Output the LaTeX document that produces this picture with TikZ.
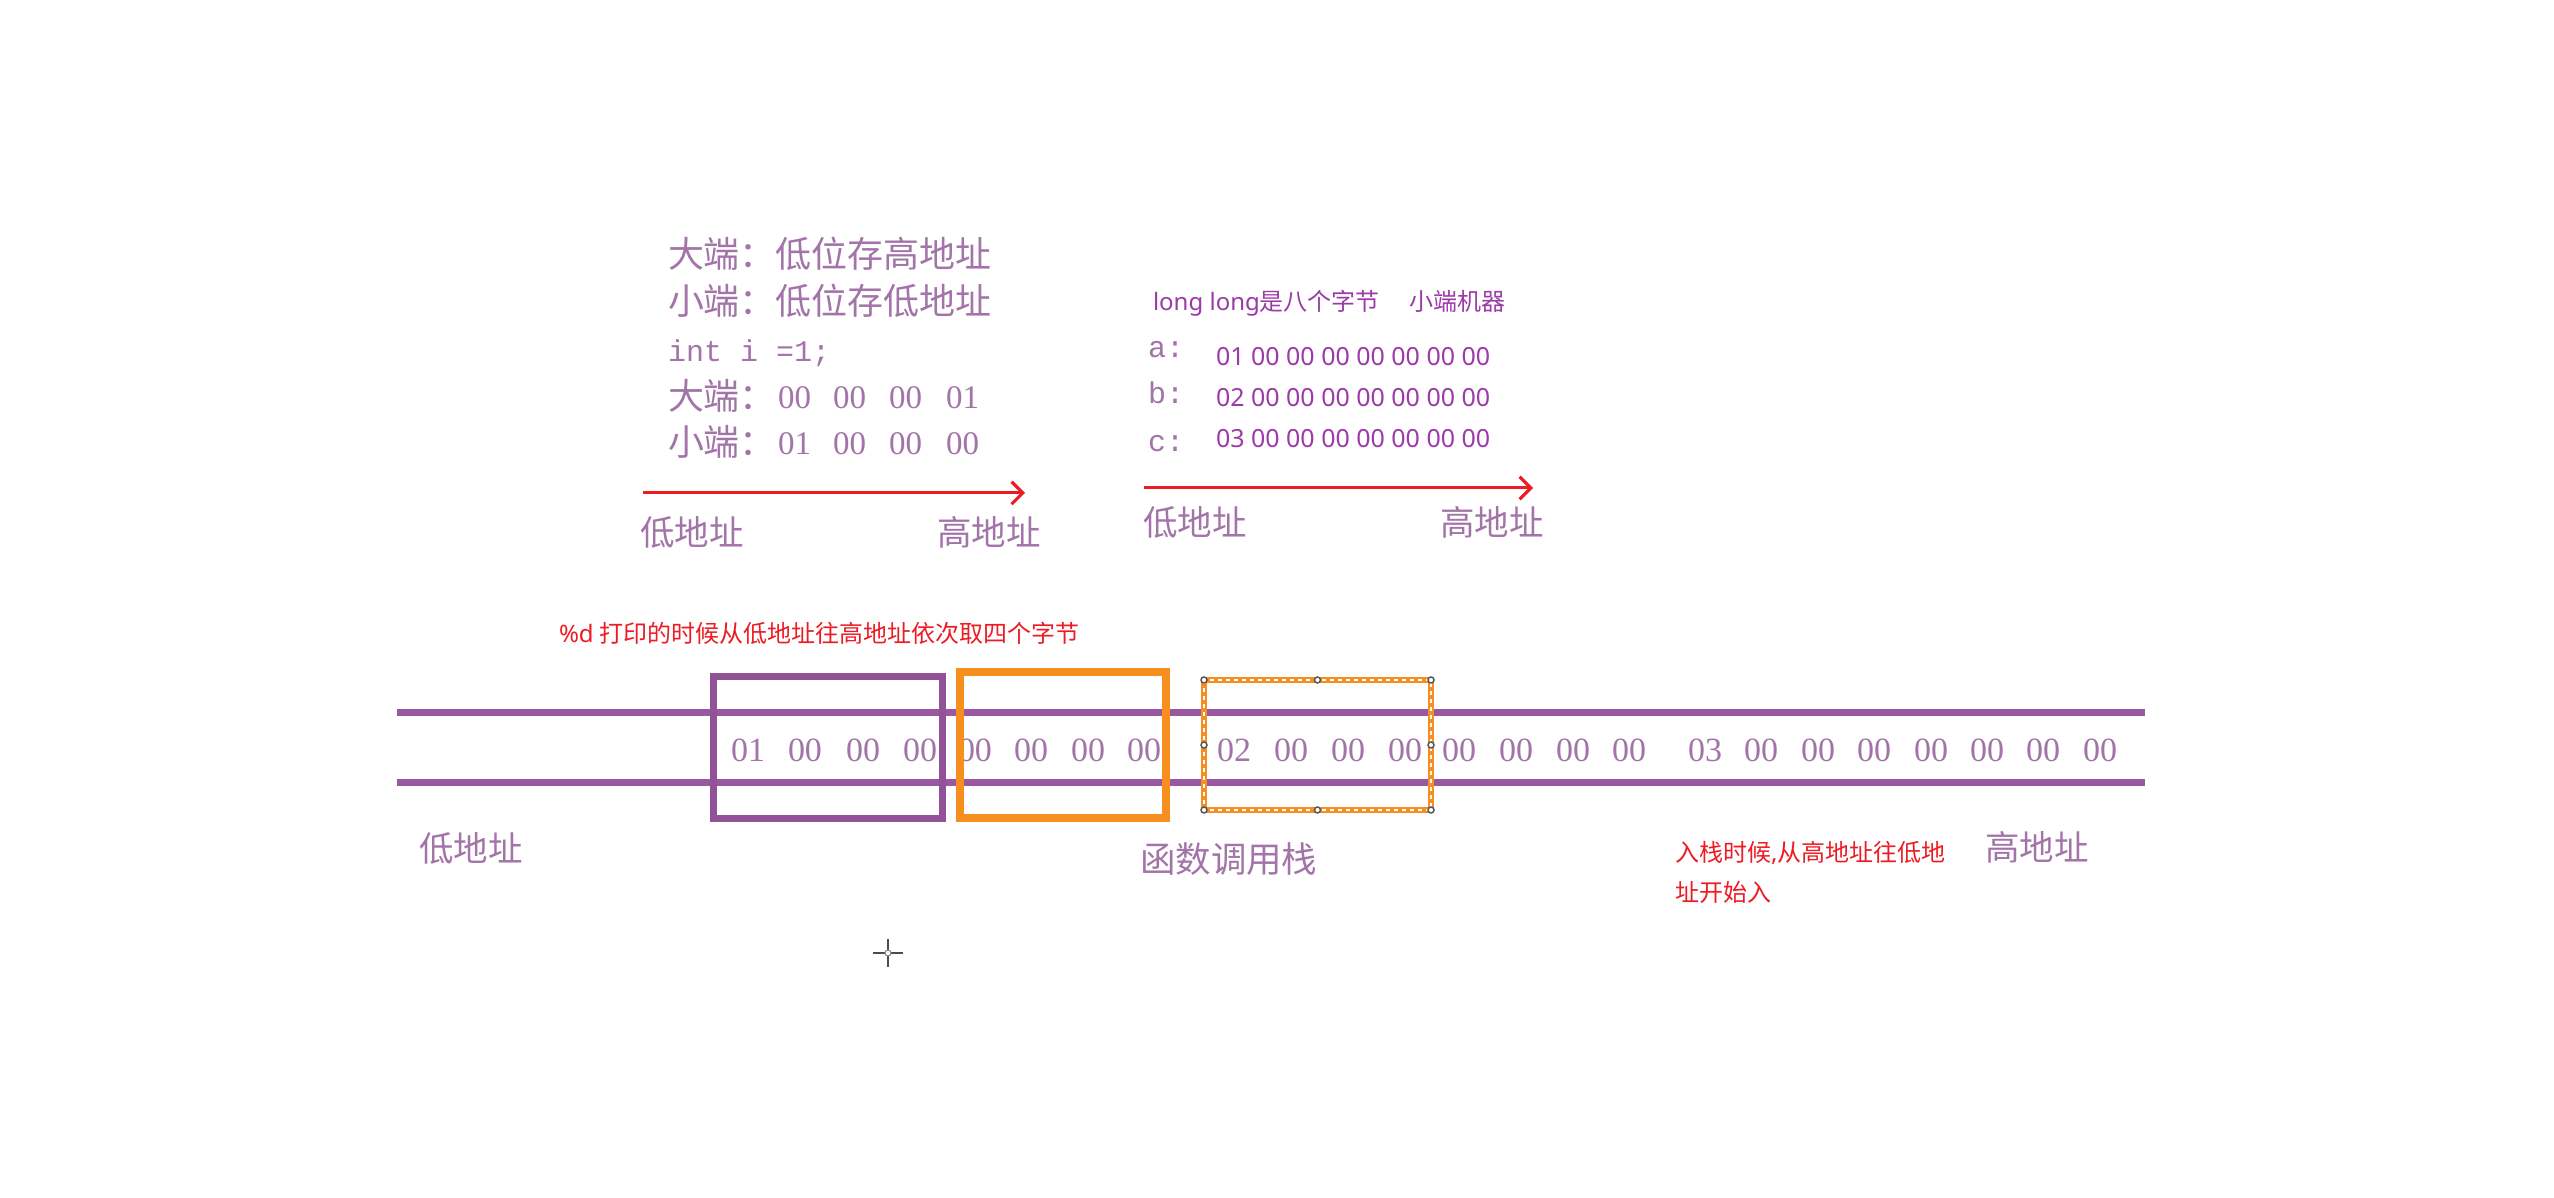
\documentclass[tikz,border=0pt]{standalone}
\usepackage{fontspec}
\setmainfont{Liberation Serif}
\newfontfamily\cjk{Noto Sans CJK SC}
\newfontfamily\lat{Noto Sans}
\newfontfamily\mono{Liberation Mono}
\usetikzlibrary{arrows.meta}
\definecolor{lightp}{RGB}{162,116,168}
\definecolor{hexp}{RGB}{155,58,168}
\definecolor{linep}{RGB}{154,88,160}
\definecolor{boxp}{RGB}{146,82,152}
\definecolor{orng}{RGB}{247,142,32}
\definecolor{redt}{RGB}{237,28,36}
\tikzset{
  t/.style={inner sep=0pt, outer sep=0pt, anchor=base west},
  tl/.style={t, text=lightp, font=\cjk\fontsize{10.24pt}{12pt}\selectfont},
  tlm/.style={t, text=lightp, font=\mono\fontsize{8.54pt}{10pt}\selectfont},
  tn/.style={t, text=lightp, font=\rmfamily\fontsize{9.39pt}{11pt}\selectfont},
  bn/.style={t, text=lightp, font=\rmfamily\fontsize{9.67pt}{11pt}\selectfont},
  addr/.style={t, text=lightp, font=\cjk\fontsize{9.82pt}{12pt}\selectfont},
  hdr/.style={t, text=hexp, font=\cjk\fontsize{6.83pt}{8pt}\selectfont},
  hexrow/.style={t, text=hexp, font=\lat\fontsize{7.11pt}{8pt}\selectfont},
  varl/.style={t, text=lightp, font=\mono\fontsize{8.54pt}{10pt}\selectfont},
  redtxt/.style={t, text=redt, font=\cjk\fontsize{6.83pt}{8pt}\selectfont},
  redarrow/.style={draw=redt, line width=0.3mm, -{Straight Barb[length=3.2pt,width=6.4pt,line width=0.9pt]}},
  stripline/.style={draw=linep, line width=0.7mm},
  pbox/.style={draw=boxp, line width=0.7mm},
  obox/.style={draw=orng, line width=0.8mm},
  handle/.style={circle, draw=gray!70!black, fill=white, line width=0.15mm, inner sep=0pt, minimum size=0.6mm}
}
\begin{document}
\begin{tikzpicture}[x=0.1mm,y=-0.1mm]
\useasboundingbox (0,0) rectangle (2554,1198);
\fill[white] (0,0) rectangle (2554,1198);

% ---------- top-left block ----------
\node[tl] (l1) at (668,268) {大端：低位存高地址};
\node[tl] (l2) at (668,315) {小端：低位存低地址};
\node[tlm] (l3) at (668,362) {int i =1;};
\node[tl] (l4) at (668,410) {大端：};
\foreach \x/\b in {778/00,833/00,889/00,946/01}
  \node[tn] (bA\x) at (\x,409) {\b};
\node[tl] (l5) at (668,456) {小端：};
\foreach \x/\b in {778/01,833/00,889/00,946/00}
  \node[tn] (bB\x) at (\x,455) {\b};

\coordinate (a1s) at (643,493);
\coordinate (a1e) at (1025,493);
\draw[redarrow] (a1s) -- (a1e);
\node[addr] (lowA) at (640,546) {低地址};
\node[addr] (highA) at (937,546) {高地址};

% ---------- top-right block ----------
\node[hdr] (h1) at (1153,311) {{\lat long long}是八个字节};
\node[hdr] (h2) at (1409,311) {小端机器};
\node[varl] (va) at (1148,358) {a:};
\node[varl] (vb) at (1148,404) {b:};
\node[varl] (vc) at (1148,452) {c:};
\node[hexrow] (ra) at (1216,366) {01 00 00 00 00 00 00 00};
\node[hexrow] (rb) at (1216,407) {02 00 00 00 00 00 00 00};
\node[hexrow] (rc) at (1216,448) {03 00 00 00 00 00 00 00};

\coordinate (a2s) at (1144,488);
\coordinate (a2e) at (1533,488);
\draw[redarrow] (a2s) -- (a2e);
\node[addr] (lowB) at (1143,536) {低地址};
\node[addr] (highB) at (1440,536) {高地址};

% ---------- red note ----------
\node[redtxt] (note1) at (559,643) {{\lat\%d} 打印的时候从低地址往高地址依次取四个字节};

% ---------- stack strip ----------
\coordinate (tl) at (397,713);
\coordinate (tr) at (2145,713);
\coordinate (bl) at (397,783);
\coordinate (br) at (2145,783);
\draw[stripline] (tl) -- (tr);
\draw[stripline] (bl) -- (br);

\foreach \x/\b in {731/01,788/00,846/00,903/00}
  \node[bn] (s1\x) at (\x,762) {\b};
\foreach \x/\b in {958/00,1014/00,1071/00,1127/00}
  \node[bn] (s2\x) at (\x,762) {\b};
\foreach \x/\b in {1217/02,1274/00,1331/00,1388/00}
  \node[bn] (s3\x) at (\x,762) {\b};
\foreach \x/\b in {1442/00,1499/00,1556/00,1612/00}
  \node[bn] (s4\x) at (\x,762) {\b};
\foreach \x/\b in {1688/03,1744/00,1801/00,1857/00,1914/00,1970/00,2026/00,2083/00}
  \node[bn] (s5\x) at (\x,762) {\b};

% boxes
\draw[pbox] (713,677) rectangle (942,819);
\draw[obox] (960,672) rectangle (1166,818);
% selected frame
\draw[draw=orng, line width=0.55mm] (1204,680) rectangle (1431,810);
\draw[draw=white, line width=0.15mm, dash pattern=on 0.4mm off 0.4mm] (1204,680) rectangle (1431,810);
\foreach \p [count=\k] in {(1204,680),(1317.5,680),(1431,680),(1431,745),(1431,810),(1317.5,810),(1204,810),(1204,745)}
  \node[handle] (hd\k) at \p {};

% bottom labels
\node[addr] (lowC) at (419,862) {低地址};
\node[addr, font=\cjk\fontsize{10.1pt}{12pt}\selectfont] (stack) at (1140,873) {函数调用栈};
\node[addr] (highC) at (1985,861) {高地址};
\node[redtxt] (note2) at (1675,862) {入栈时候{\lat,}从高地址往低地};
\node[redtxt] (note3) at (1675,902) {址开始入};

% cursor
\coordinate (cur) at (888,953);
\draw[gray!60!black, line width=0.2mm] ([xshift=-1.5mm]cur) -- ([xshift=1.5mm]cur);
\draw[gray!60!black, line width=0.2mm] ([yshift=-1.4mm]cur) -- ([yshift=1.4mm]cur);
\fill[white] (cur) circle (0.3mm);
\draw[gray, line width=0.1mm] (cur) circle (0.3mm);
\end{tikzpicture}
\end{document}
